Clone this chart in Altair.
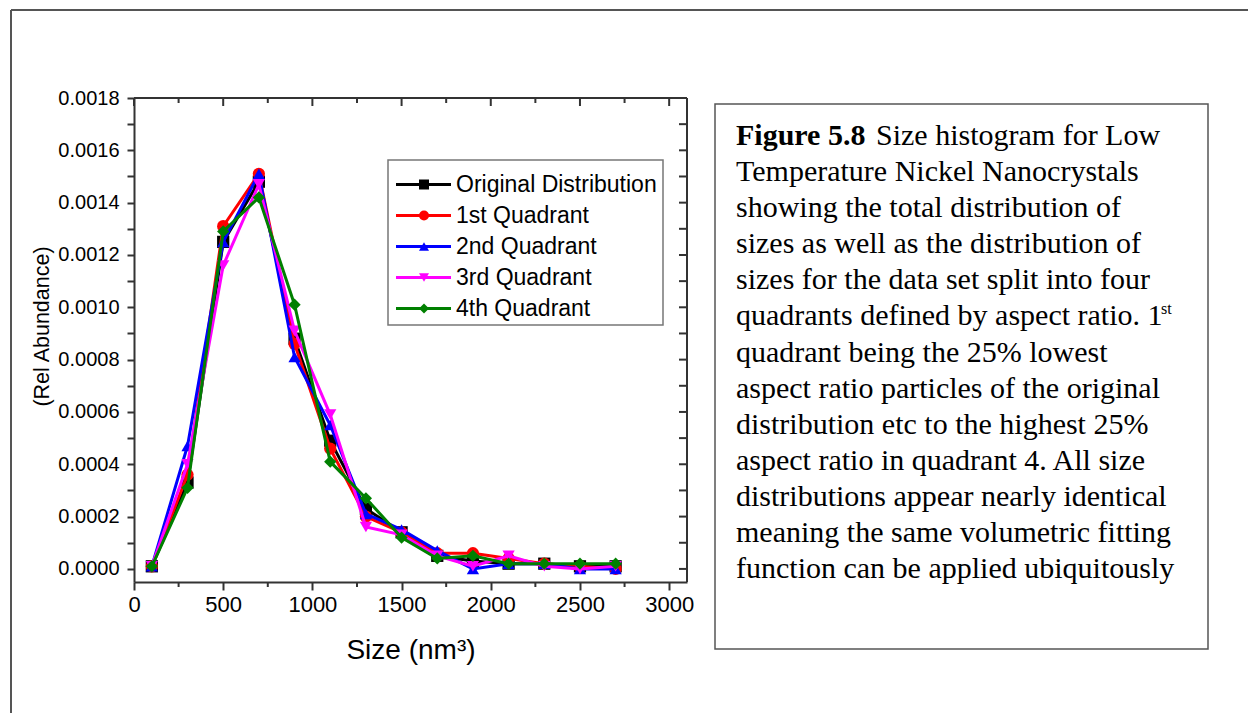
import altair as alt
import pandas as pd

# ---------------- data ----------------
sizes = [100, 300, 500, 700, 900, 1100, 1300, 1500, 1700, 1900, 2100, 2300, 2500, 2700]
series_names = ["Original Distribution", "1st Quadrant", "2nd Quadrant", "3rd Quadrant", "4th Quadrant"]
original = [0.00001, 0.00033, 0.00125, 0.00148, 0.00088, 0.00049, 0.00023, 0.00014, 0.00005, 0.00003, 0.00002, 0.00002, 0.00001, 0.00001]
quad1 = [0.00001, 0.00036, 0.00131, 0.00151, 0.00086, 0.00046, 0.00020, 0.00014, 0.00006, 0.00006, 0.00004, 0.00002, 0.00001, 0.00000]
quad2 = [0.00001, 0.00047, 0.00125, 0.00151, 0.00081, 0.00055, 0.00021, 0.00015, 0.00007, 0.00000, 0.00002, 0.00002, 0.00000, 0.00000]
quad3 = [0.00001, 0.00040, 0.00116, 0.00147, 0.00091, 0.00059, 0.00016, 0.00013, 0.00005, 0.00001, 0.00005, 0.00001, 0.00000, 0.00001]
quad4 = [0.00001, 0.00031, 0.00129, 0.00142, 0.00101, 0.00041, 0.00027, 0.00012, 0.00004, 0.00005, 0.00002, 0.00002, 0.00002, 0.00002]
series_values = [original, quad1, quad2, quad3, quad4]
marker_keys = ["m-original", "m-q1", "m-q2", "m-q3", "m-q4"]
colors = ["#000000", "#FF0000", "#0000FF", "#FF00FF", "#008000"]
shapes = ["square", "circle", "triangle-up", "triangle-down", "diamond"]

x_major = [0, 500, 1000, 1500, 2000, 2500, 3000]
x_minor = [250, 750, 1250, 1750, 2250, 2750]
y_ticks = [0.0, 0.0001, 0.0002, 0.0003, 0.0004, 0.0005, 0.0006, 0.0007, 0.0008, 0.0009,
           0.0010, 0.0011, 0.0012, 0.0013, 0.0014, 0.0015, 0.0016, 0.0017, 0.0018]

caption_first_bold = "Figure 5.8"
caption_first_rest = "Size histogram for Low"
caption_lines = [
    "Temperature Nickel Nanocrystals",
    "showing the total distribution of",
    "sizes as well as the distribution of",
    "sizes for the data set split into four",
    "quadrants defined by aspect ratio. 1",
    "quadrant being the 25% lowest",
    "aspect ratio particles of the original",
    "distribution etc to the highest 25%",
    "aspect ratio in quadrant 4. All size",
    "distributions appear nearly identical",
    "meaning the same volumetric fitting",
    "function can be applied ubiquitously",
]
caption_sup = "st"

# ---------------- layout constants ----------------
W, H = 553, 484
OX, OY = 134, 98
SANS = "Liberation Sans"
SERIF = "Liberation Serif"
AX = "#333333"

rows = []
for name, key, vals in zip(series_names, marker_keys, series_values):
    for s, v in zip(sizes, vals):
        rows.append({"size": s, "abundance": v, "series": name, "marker": key})
df = pd.DataFrame(rows)

x_scale = alt.Scale(domain=[0, 3100], nice=False, zero=False)
y_scale = alt.Scale(domain=[-0.00005, 0.0018], nice=False, zero=False)

x_axis = alt.Axis(
    values=x_major, format="d", title="Size (nm³)", grid=False,
    titleFont=SANS, titleFontSize=28, titleFontWeight="normal", titleColor="black",
    titleBaseline="middle", titleY=68,
    labelFont=SANS, labelFontSize=22, labelColor="black", labelPadding=4,
    labelFlush=False, labelOverlap=False,
    tickSize=8, tickWidth=2, tickColor=AX, domainColor=AX, domainWidth=2,
)
y_axis = alt.Axis(
    values=y_ticks,
    labelExpr="round(datum.value*10000) % 2 == 0 ? format(datum.value, '.4f') : ''",
    title="(Rel Abundance)", grid=False,
    titleFont=SANS, titleFontSize=21.5, titleFontWeight="normal", titleColor="black",
    titleBaseline="middle", titleX=-92, titleY=228,
    labelFont=SANS, labelFontSize=20, labelColor="black", labelPadding=8,
    labelFlush=False, labelOverlap=False,
    tickSize=7, tickWidth=2, tickColor=AX, domainColor=AX, domainWidth=2,
)

x_enc = alt.X("size:Q", scale=x_scale, axis=x_axis)
y_enc = alt.Y("abundance:Q", scale=y_scale, axis=y_axis)

LEG_X, LEG_Y = 278, 75
leg_lines = alt.Legend(
    orient="none", legendX=LEG_X, legendY=LEG_Y, title=None,
    symbolType="M-5,0H5", symbolSize=121, symbolStrokeWidth=3, symbolFillColor="transparent",
    labelFont=SANS, labelFontSize=23, labelColor="black", labelOffset=21, labelLimit=400,
    rowPadding=7, padding=0,
)
leg_marks = alt.Legend(
    orient="none", legendX=LEG_X + 0.5, legendY=LEG_Y, title=None,
    symbolSize=100, symbolStrokeWidth=0, symbolOpacity=1,
    labelFont=SANS, labelFontSize=23, labelExpr="''", labelOffset=21,
    rowPadding=7, padding=0,
)
stroke_enc = alt.Stroke("series:N", scale=alt.Scale(domain=series_names, range=colors), legend=leg_lines)
fill_enc = alt.Fill("marker:N", scale=alt.Scale(domain=marker_keys, range=colors), legend=leg_marks)
shape_enc = alt.Shape("marker:N", scale=alt.Scale(domain=marker_keys, range=shapes), legend=leg_marks)

one = pd.DataFrame({"k": [0]})

# outer page frame (left + top)
frame_left = alt.Chart(one).mark_rule(color="#555555", strokeWidth=2).encode(
    x=alt.value(11 - OX), y=alt.value(10 - OY), y2=alt.value(713 - OY))
frame_top = alt.Chart(one).mark_rule(color="#555555", strokeWidth=2).encode(
    x=alt.value(11 - OX), x2=alt.value(1248 - OX), y=alt.value(10 - OY))

# caption box
cap_box = alt.Chart(one).mark_rect(fill="white", stroke="#555555", strokeWidth=1.5).encode(
    x=alt.value(715 - OX), x2=alt.value(1208 - OX), y=alt.value(104 - OY), y2=alt.value(649 - OY))
CAP_X = 736 - OX
CAP_Y0 = 145 - OY
CAP_LH = 36.1
CAP_FS = 30
cap_bold = alt.Chart(one).mark_text(
    text=caption_first_bold, font=SERIF, fontSize=CAP_FS, fontWeight="bold", align="left",
    baseline="alphabetic", color="black").encode(x=alt.value(CAP_X), y=alt.value(CAP_Y0))
cap_rest = alt.Chart(one).mark_text(
    text=caption_first_rest, font=SERIF, fontSize=CAP_FS, align="left",
    baseline="alphabetic", color="black").encode(x=alt.value(CAP_X + 140), y=alt.value(CAP_Y0))
cap_body = alt.Chart(one).mark_text(
    text=caption_lines, font=SERIF, fontSize=CAP_FS, align="left", lineHeight=CAP_LH,
    baseline="alphabetic", color="black").encode(x=alt.value(CAP_X), y=alt.value(CAP_Y0 + CAP_LH))
cap_sup = alt.Chart(one).mark_text(
    text=caption_sup, font=SERIF, fontSize=16, align="left",
    baseline="alphabetic", color="black").encode(x=alt.value(CAP_X + 425), y=alt.value(CAP_Y0 + 5 * CAP_LH - 12))

# plot frame top/right and mirrored ticks
top_line = alt.Chart(one).mark_rule(color=AX, strokeWidth=2).encode(
    x=alt.value(0), x2=alt.value(W), y=alt.value(0))
right_line = alt.Chart(one).mark_rule(color=AX, strokeWidth=2).encode(
    x=alt.value(W), y=alt.value(0), y2=alt.value(H))
top_major = alt.Chart(pd.DataFrame({"size": x_major})).mark_rule(color=AX, strokeWidth=2).encode(
    x=x_enc, y=alt.value(0), y2=alt.value(8))
top_minor = alt.Chart(pd.DataFrame({"size": x_minor})).mark_rule(color=AX, strokeWidth=2).encode(
    x=x_enc, y=alt.value(0), y2=alt.value(5))
bottom_minor = alt.Chart(pd.DataFrame({"size": x_minor})).mark_rule(color=AX, strokeWidth=2).encode(
    x=x_enc, y=alt.value(H), y2=alt.value(H + 5))
right_ticks = alt.Chart(pd.DataFrame({"abundance": y_ticks})).mark_rule(color=AX, strokeWidth=2).encode(
    y=y_enc, x=alt.value(W), x2=alt.value(W - 8))

# legend box
leg_box = alt.Chart(one).mark_rect(fill="white", stroke="#777777", strokeWidth=1.5).encode(
    x=alt.value(388 - OX), x2=alt.value(663 - OX), y=alt.value(160 - OY), y2=alt.value(325 - OY))

data_layers = []
for name in series_names:
    base = alt.Chart(df).transform_filter(alt.FieldEqualPredicate(field="series", equal=name))
    data_layers.append(base.mark_line(strokeWidth=3).encode(x=x_enc, y=y_enc, stroke=stroke_enc))
    data_layers.append(base.mark_point(filled=True, size=150, opacity=1, strokeWidth=0).encode(
        x=x_enc, y=y_enc, fill=fill_enc, shape=shape_enc))

chart = alt.layer(
    *data_layers,
    frame_left, frame_top, cap_box, cap_bold, cap_rest, cap_body, cap_sup,
    leg_box, top_line, right_line, top_major, top_minor, bottom_minor, right_ticks,
).properties(
    width=W, height=H,
    autosize=alt.AutoSizeParams(type="none"),
    padding={"left": OX, "top": OY, "right": 1248 - OX - W, "bottom": 713 - OY - H},
    background="white",
).configure_view(stroke=None)

chart.save("out.html", embed_options={"renderer": "svg", "actions": False})
